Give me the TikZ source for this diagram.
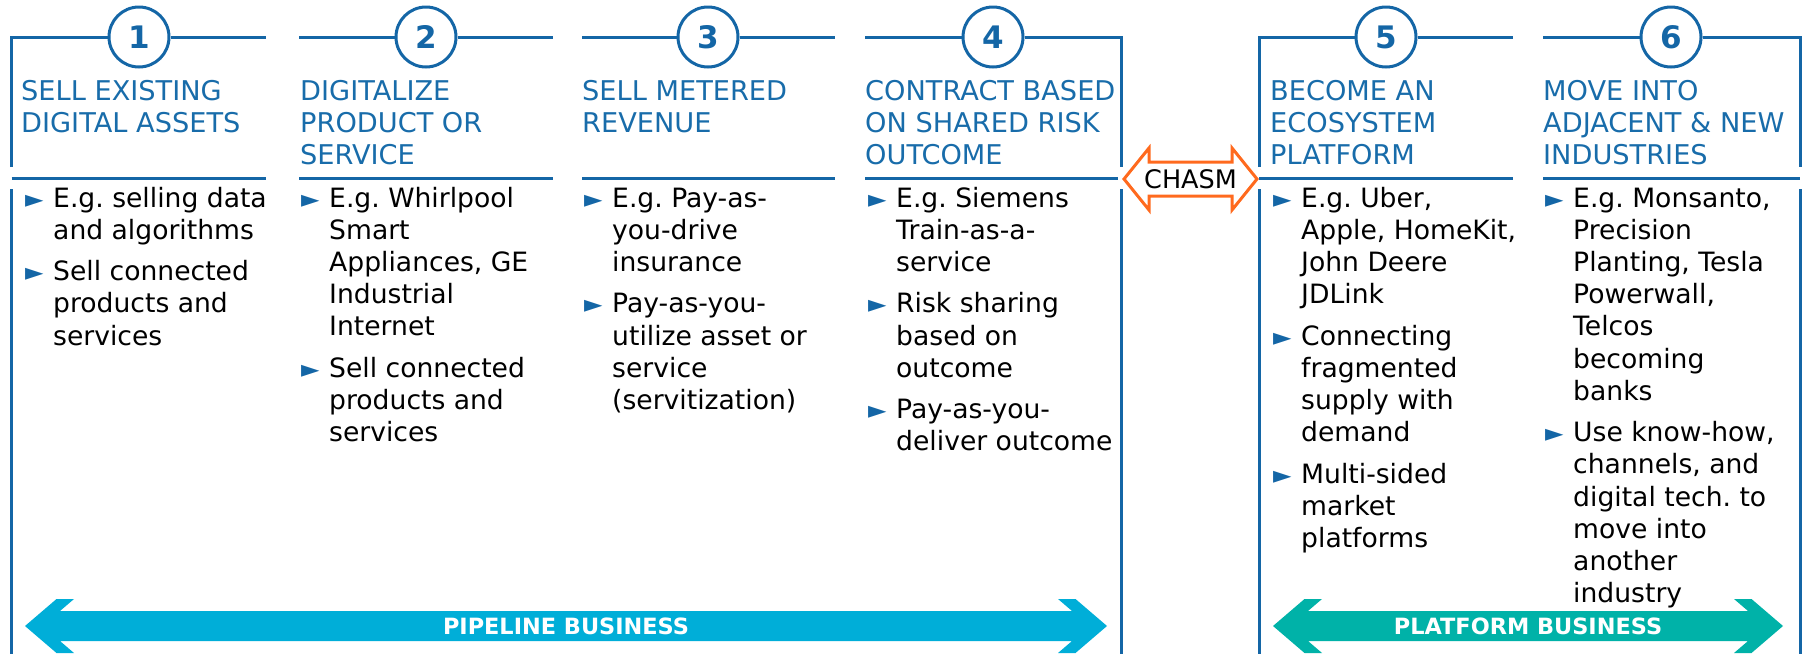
\documentclass[tikz,border=0pt]{standalone}
\usepackage{fontspec}
\setmainfont{DejaVu Sans}
\usepackage{tikz}

\definecolor{dblue}{RGB}{20,102,166}
\definecolor{hblue}{RGB}{24,108,170}
\definecolor{pipecyan}{RGB}{0,174,216}
\definecolor{platteal}{RGB}{0,178,168}
\definecolor{chasmorange}{RGB}{255,106,30}

\frenchspacing
\newcommand{\tri}{\makebox[28pt][l]{\color{dblue}\fontsize{24}{24}\selectfont ►}}
\newcommand{\hdr}[1]{\begin{tabular}[t]{@{}l@{}}#1\end{tabular}}
\newcommand{\blist}[1]{\begin{tabular}[t]{@{}l@{}l@{}}#1\end{tabular}}
% double headed band: left tip, right tip, middle, colour
\newcommand{\bizarrow}[4]{%
  \fill[#4] (#1,#3) -- ({#1+31.5},{#3-27}) -- ({#1+49},{#3-27}) -- ({#1+35},{#3-15})
    -- ({#2-35},{#3-15}) -- ({#2-49},{#3-27}) -- ({#2-31.5},{#3-27}) -- (#2,#3)
    -- ({#2-31.5},{#3+27}) -- ({#2-49},{#3+27}) -- ({#2-35},{#3+15})
    -- ({#1+35},{#3+15}) -- ({#1+49},{#3+27}) -- ({#1+31.5},{#3+27}) -- cycle;}

\begin{document}
\begin{tikzpicture}[x=1pt, y=-1pt,
    frame/.style={draw=dblue, line width=3pt},
    num/.style={circle, draw=dblue, line width=3pt, fill=white, minimum size=60pt,
      inner sep=0pt, text=dblue, font=\fontsize{31}{31}\selectfont\bfseries},
    head/.style={anchor=base west, inner sep=0pt, text=hblue, font=\fontsize{27.2}{32.2}\selectfont},
    body/.style={anchor=base west, inner sep=0pt, font=\fontsize{26.6}{32.2}\selectfont},
    biz/.style={text=white, inner sep=0pt, font=\fontsize{22.4}{22.4}\selectfont\bfseries}]

  \useasboundingbox (0,0) rectangle (1803,654);

  % Numbers
  \node[num] (n1) at (139,37) {1};
  \node[num] (n2) at (426,37) {2};
  \node[num] (n3) at (708,37) {3};
  \node[num] (n4) at (993,37) {4};
  \node[num] (n5) at (1386,37) {5};
  \node[num] (n6) at (1671,37) {6};

  % Frame lines
  \draw[frame] (11.5,167) -- (11.5,37) -- (n1.west);
  \draw[frame] (n1.east) -- (266,37);
  \draw[frame] (299,37) -- (n2.west);
  \draw[frame] (n2.east) -- (553,37);
  \draw[frame] (582,37) -- (n3.west);
  \draw[frame] (n3.east) -- (835,37);
  \draw[frame] (865,37) -- (n4.west);
  \draw[frame] (n4.east) -- (1121,37) -- (1121,167);
  \draw[frame] (1259,167) -- (1259,37) -- (n5.west);
  \draw[frame] (n5.east) -- (1513,37);
  \draw[frame] (1543,37) -- (n6.west);
  \draw[frame] (n6.east) -- (1800,37) -- (1800,167);

  \draw[frame] (11.5,189) -- (11.5,654);
  \draw[frame] (1121,189) -- (1121,654);
  \draw[frame] (1259,189) -- (1259,654);
  \draw[frame] (1800,189) -- (1800,654);

  \draw[frame] (11.5,178) -- (266,178);
  \draw[frame] (299,178) -- (553,178);
  \draw[frame] (582,178) -- (835,178);
  \draw[frame] (865,178) -- (1118,178);
  \draw[frame] (1259,178) -- (1513,178);
  \draw[frame] (1543,178) -- (1800,178);

  % Headings
  \node[head] (h1) at (21,100) {\hdr{SELL EXISTING\\DIGITAL ASSETS}};
  \node[head] (h2) at (300,100) {\hdr{DIGITALIZE\\PRODUCT OR\\SERVICE}};
  \node[head] (h3) at (582,100) {\hdr{SELL METERED\\REVENUE}};
  \node[head] (h4) at (865,100) {\hdr{CONTRACT BASED\\ON SHARED RISK\\OUTCOME}};
  \node[head] (h5) at (1270,100) {\hdr{BECOME AN\\ECOSYSTEM\\PLATFORM}};
  \node[head] (h6) at (1543,100) {\hdr{MOVE INTO\\ADJACENT \& NEW\\INDUSTRIES}};

  % Bullets
  \node[body] (b1) at (25,207) {\blist{\tri & E.g. selling data\\ & and algorithms\\[9.2pt]
    \tri & Sell connected\\ & products and\\ & services}};
  \node[body] (b2) at (301,207) {\blist{\tri & E.g. Whirlpool\\ & Smart\\ & Appliances, GE\\ & Industrial\\ & Internet\\[9.2pt]
    \tri & Sell connected\\ & products and\\ & services}};
  \node[body] (b3) at (584,207) {\blist{\tri & E.g. Pay-as-\\ & you-drive\\ & insurance\\[9.2pt]
    \tri & Pay-as-you-\\ & utilize asset or\\ & service\\ & (servitization)}};
  \node[body] (b4) at (868,207) {\blist{\tri & E.g. Siemens\\ & Train-as-a-\\ & service\\[9.2pt]
    \tri & Risk sharing\\ & based on\\ & outcome\\[9.2pt]
    \tri & Pay-as-you-\\ & deliver outcome}};
  \node[body] (b5) at (1273,207) {\blist{\tri & E.g. Uber,\\ & Apple, HomeKit,\\ & John Deere\\ & JDLink\\[9.2pt]
    \tri & Connecting\\ & fragmented\\ & supply with\\ & demand\\[9.2pt]
    \tri & Multi-sided\\ & market\\ & platforms}};
  \node[body] (b6) at (1545,207) {\blist{\tri & E.g. Monsanto,\\ & Precision\\ & Planting, Tesla\\ & Powerwall,\\ & Telcos\\ & becoming\\ & banks\\[9.2pt]
    \tri & Use know-how,\\ & channels, and\\ & digital tech. to\\ & move into\\ & another\\ & industry}};

  % Chasm
  \node[inner sep=0pt, font=\fontsize{25.5}{25.5}\selectfont] (chasm) at (1190.5,179) {CHASM};
  \draw[chasmorange, line width=3pt, line join=miter] (chasm.center) ++(-66.5,0) -- ++(25,-31) -- ++(0,14)
    -- ++(83,0) -- ++(0,-14) -- ++(25,31) -- ++(-25,31) -- ++(0,-14) -- ++(-83,0) -- ++(0,14) -- cycle;

  % Business bands
  \bizarrow{25}{1107}{626}{pipecyan}
  \bizarrow{1273}{1783}{626}{platteal}
  \node[biz] (pipe) at (566,626) {PIPELINE BUSINESS};
  \node[biz] (plat) at (1528,626) {PLATFORM BUSINESS};
\end{tikzpicture}
\end{document}
